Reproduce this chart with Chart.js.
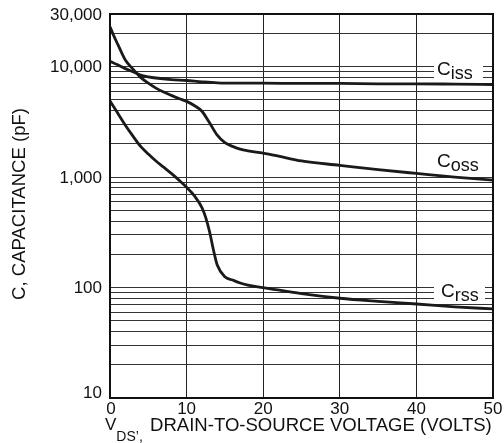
<!DOCTYPE html>
<html><head><meta charset="utf-8">
<script src="https://cdn.jsdelivr.net/npm/chart.js@4"></script>
<style>html,body{margin:0;padding:0;background:#fff;}#wrap{width:504px;height:443px;position:relative;}</style>
</head><body><div id="wrap"><canvas id="c" width="504" height="443"></canvas></div>
<script>
const cissV = [0,1,2,3,4,5,6,8,10,12,14,17,20,25,30,35,40,45,50];
const cissC = [11200,10400,9600,9000,8400,8100,7900,7650,7500,7300,7150,7100,7100,7050,7050,7000,7000,6950,6900];
const cossV = [0,0.5,1,1.5,2,3,4,5,6,7,8,9,10,11,12,13,14,15,16,17,18,20,22,25,30,35,40,45,50];
const cossC = [23000,19000,16000,13500,11500,9500,8000,7100,6400,5900,5500,5150,4850,4450,3950,3100,2400,2050,1900,1790,1730,1650,1550,1400,1280,1170,1080,1000,940];
const crssV = [0,1,2,3,4,5,6,7,8,9,10,11,12,12.5,13,13.5,14,15,16,17,18,20,25,30,35,40,45,50];
const crssC = [4900,3800,2950,2350,1900,1620,1400,1230,1080,940,810,680,530,430,320,220,160,125,117,110,105,100,88,80,75,71,67,64];
const seriesNames = ['C', 'C', 'C'];
const seriesSubs = ['iss', 'oss', 'rss'];
const yTickLabels = {10:'10', 100:'100', 1000:'1,000', 10000:'10,000', 30000:'30,000'};
const xTicks = [0,10,20,30,40,50];
const yTitle = 'C, CAPACITANCE (pF)';
const xTitleMain = 'V';
const xTitleSub = 'DS';
const xTitleRest = 'DRAIN-TO-SOURCE VOLTAGE (VOLTS)';

function pts(v, c){ return v.map((x,i)=>({x:x, y:c[i]})); }
const FONT = '"Liberation Sans", Arial, sans-serif';

const yGridTicks = [];
for (let d = 10; d <= 10000; d *= 10) for (let m = 1; m <= 9; m++) { const v = m*d; if (v <= 30000) yGridTicks.push(v); }
yGridTicks.push(20000); yGridTicks.push(30000);
const yTicksSorted = Array.from(new Set(yGridTicks)).sort((a,b)=>a-b);

const decor = {
  id: 'decor',
  afterDatasetsDraw(chart){
    const ctx = chart.ctx, a = chart.chartArea, xs = chart.scales.x, ys = chart.scales.y;
    ctx.save();
    ctx.strokeStyle = '#111'; ctx.lineWidth = 2;
    ctx.strokeRect(a.left, a.top, a.right - a.left, a.bottom - a.top);
    ctx.fillStyle = '#111';
    ctx.font = '17px ' + FONT;
    ctx.textAlign = 'right';
    Object.keys(yTickLabels).forEach(k => {
      const v = +k, y = ys.getPixelForValue(v);
      if (v === 10) { ctx.textBaseline = 'alphabetic'; ctx.fillText(yTickLabels[k], 102, y); }
      else { ctx.textBaseline = 'middle'; ctx.fillText(yTickLabels[k], 102, y + 1); }
    });
    ctx.textAlign = 'center'; ctx.textBaseline = 'alphabetic';
    xTicks.forEach(v => { ctx.fillText(String(v), xs.getPixelForValue(v) + (v===0?1:0), 414); });
    // x title
    ctx.textAlign = 'left';
    ctx.font = '17px ' + FONT;
    ctx.fillText(xTitleMain, 105, 430);
    const vw = ctx.measureText(xTitleMain).width;
    ctx.font = '14px ' + FONT;
    ctx.fillText(xTitleSub + '\u2019,', 105 + vw, 441);
    let fs = 17; ctx.font = fs + 'px ' + FONT;
    const rw = ctx.measureText(xTitleRest).width;
    fs = fs * 342 / rw; ctx.font = fs.toFixed(2) + 'px ' + FONT;
    ctx.fillText(xTitleRest, 150, 431);
    // y title
    ctx.save();
    ctx.translate(25, 204);
    ctx.rotate(-Math.PI/2);
    fs = 16; ctx.font = fs + 'px ' + FONT;
    const tw = ctx.measureText(yTitle).width;
    fs = fs * 192 / tw; ctx.font = fs.toFixed(2) + 'px ' + FONT;
    ctx.textAlign = 'center'; ctx.textBaseline = 'alphabetic';
    ctx.fillText(yTitle, 0, 0);
    ctx.restore();
    // series labels
    const labs = [
      {x:437, yb:75, box:[434,62,49,19]},
      {x:437, yb:167, box:null},
      {x:441, yb:297, box:[434,282,51,19]}
    ];
    labs.forEach((l,i) => {
      if (l.box) { ctx.fillStyle = '#fff'; ctx.fillRect(l.box[0], l.box[1], l.box[2], l.box[3]); }
      ctx.fillStyle = '#111';
      ctx.font = '19px ' + FONT; ctx.textAlign = 'left';
      ctx.fillText(seriesNames[i], l.x, l.yb);
      const cw = ctx.measureText(seriesNames[i]).width;
      ctx.font = '18px ' + FONT;
      ctx.fillText(seriesSubs[i], l.x + cw, l.yb + 4);
    });
    ctx.restore();
  }
};

const lineStyle = {borderColor:'#1a1a1a', borderWidth:2.8, pointRadius:0, fill:false, cubicInterpolationMode:'monotone'};
new Chart(document.getElementById('c'), {
  type: 'line',
  data: { datasets: [
    Object.assign({label:'Ciss', data: pts(cissV, cissC)}, lineStyle),
    Object.assign({label:'Coss', data: pts(cossV, cossC)}, lineStyle),
    Object.assign({label:'Crss', data: pts(crssV, crssC)}, lineStyle)
  ]},
  options: {
    responsive: false, animation: false, devicePixelRatio: 1,
    layout: { padding: { left: 0, right: 11, top: 14, bottom: 0 } },
    plugins: { legend: {display:false}, tooltip: {enabled:false} },
    scales: {
      x: { type:'linear', min:0, max:50,
        ticks: { stepSize:10, display:false },
        grid: { color:'#222', lineWidth:1, drawTicks:false },
        border: { display:false },
        afterFit(s){ s.height = 45; } },
      y: { type:'logarithmic', min:10, max:30000,
        ticks: { display:false },
        afterBuildTicks(s){ s.ticks = yTicksSorted.map(v => ({value:v})); },
        grid: { color:'#333', lineWidth:1, drawTicks:false },
        border: { display:false },
        afterFit(s){ s.width = 110; } }
    }
  },
  plugins: [decor]
});
</script>
</body></html>
